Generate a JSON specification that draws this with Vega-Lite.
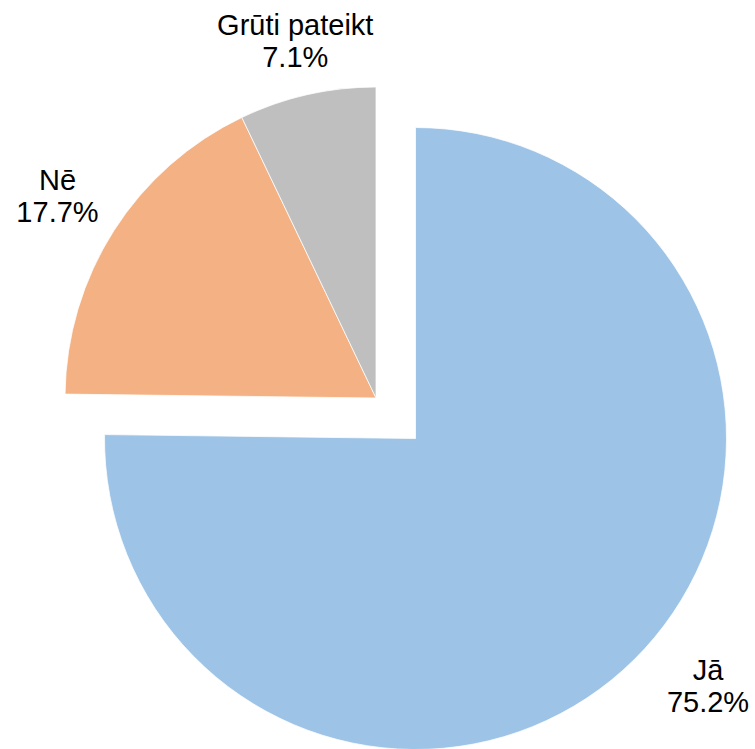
{
  "$schema": "https://vega.github.io/schema/vega-lite/v6.json",
  "width": 755,
  "height": 749,
  "autosize": {"type": "none"},
  "padding": 0,
  "background": "white",
  "view": {"stroke": null},
  "config": {"text": {"font": "Liberation Sans"}},
  "data": {
    "values": [
      {"cat": "Jā", "value": 75.2, "i": 1, "label": "Jā\n75.2%"},
      {"cat": "Nē", "value": 17.7, "i": 2, "label": "Nē\n17.7%"},
      {"cat": "Grūti pateikt", "value": 7.1, "i": 3, "label": "Grūti pateikt\n7.1%"}
    ]
  },
  "encoding": {
    "theta": {"field": "value", "type": "quantitative", "stack": true},
    "order": {"field": "i", "type": "quantitative", "sort": "ascending"}
  },
  "layer": [
    {
      "mark": {"type": "arc", "radius": 311, "xOffset": -1.5, "yOffset": 23.5, "stroke": "white", "strokeWidth": 0.75},
      "encoding": {
        "color": {"field": "cat", "type": "nominal", "scale": {"domain": ["Jā", "Nē", "Grūti pateikt"], "range": ["#9DC3E6", "#F4B183", "#BFBFBF"]}, "legend": null},
        "opacity": {"condition": {"test": "datum.cat === 'Jā'", "value": 0}, "value": 1}
      }
    },
    {
      "mark": {"type": "arc", "radius": 311, "xOffset": 38, "yOffset": 64, "stroke": "white", "strokeWidth": 0.75},
      "encoding": {
        "color": {"field": "cat", "type": "nominal", "legend": null},
        "opacity": {"condition": {"test": "datum.cat === 'Jā'", "value": 1}, "value": 0}
      }
    },
    {
      "mark": {"type": "text", "radius": 365, "xOffset": -1.5, "yOffset": 23.5, "dy": -16, "fontSize": 29, "lineHeight": 32, "lineBreak": "\n", "color": "black", "align": "center", "baseline": "middle"},
      "encoding": {
        "text": {"field": "label", "type": "nominal"},
        "opacity": {"condition": {"test": "datum.cat === 'Grūti pateikt'", "value": 1}, "value": 0}
      }
    },
    {
      "mark": {"type": "text", "radius": 378, "xOffset": -1.5, "yOffset": 23.5, "dy": -13, "fontSize": 29, "lineHeight": 32, "lineBreak": "\n", "color": "black", "align": "center", "baseline": "middle"},
      "encoding": {
        "text": {"field": "label", "type": "nominal"},
        "opacity": {"condition": {"test": "datum.cat === 'Nē'", "value": 1}, "value": 0}
      }
    },
    {
      "mark": {"type": "text", "radius": 385, "thetaOffset": -0.0838, "xOffset": 38, "yOffset": 64, "dy": -18, "fontSize": 29, "lineHeight": 32, "lineBreak": "\n", "color": "black", "align": "center", "baseline": "middle"},
      "encoding": {
        "text": {"field": "label", "type": "nominal"},
        "opacity": {"condition": {"test": "datum.cat === 'Jā'", "value": 1}, "value": 0}
      }
    }
  ]
}
